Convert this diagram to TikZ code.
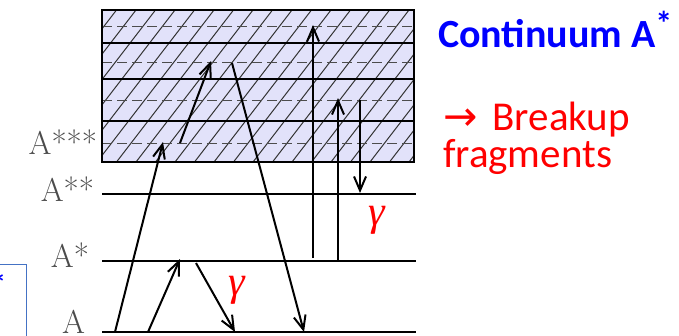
\documentclass[tikz,border=0pt]{standalone}
\usepackage{fontspec}
\newfontfamily\calibri{Carlito}
\newfontfamily\dejavu{DejaVu Sans}
\newfontfamily\gamfont{Liberation Serif}
\usetikzlibrary{arrows.meta}
\definecolor{contfill}{RGB}{226,226,250}
\definecolor{boxblue}{RGB}{68,114,196}

\begin{document}
\begin{tikzpicture}[x=1pt,y=-1pt,line width=2pt,
  level/.style={line width=2pt},
  trans/.style={-{Straight Barb[length=14pt,width=12pt,line width=2pt]},line width=2pt},
  sublevel/.style={dashed,dash pattern=on 10pt off 5pt,black!70,line width=1pt},
  hatch/.style={black!80,line width=1pt},
  lab/.style={font=\fontsize{33}{36}\selectfont,text=black!70,inner sep=0pt},
  gam/.style={text=red,font=\gamfont\itshape\fontsize{42}{44}\selectfont,inner sep=0pt}]

\useasboundingbox (0,0) rectangle (679,335);

% continuum
\fill[contfill] (102,10) rectangle (414,162);
\begin{scope}
\clip (102,10) rectangle (414,162);
\foreach \x in {-20,-0.5,...,420}
  \draw[hatch] (\x,162) -- ++(117,-152);
\end{scope}
\foreach \y in {26,62,100,143}
  \draw[sublevel] (102,\y) -- (414,\y);
\foreach \y in {43,79,121}
  \draw[level] (102,\y) -- (414,\y);
\draw[level] (102,10) rectangle (414,162);

% bound levels
\draw[level] (102,194) -- (416,194); %A**
\draw[level] (102,261) -- (416,261); %A*
\draw[level] (102,332) -- (416,332); %A

\node[lab,anchor=base east] (l3) at (98,154) {A***};
\node[lab,anchor=base east] (l2) at (95,201) {A**};
\node[lab,anchor=base east] (l1) at (90,267) {A*};
\node[lab,anchor=base east] (l0) at (86,333) {A};

% transitions
\coordinate (p1) at (115,332); \coordinate (q1) at (163,142);
\coordinate (p2) at (180,143); \coordinate (q2) at (211,61);
\coordinate (p3) at (232,63);  \coordinate (q3) at (304,332);
\coordinate (p4) at (148,332); \coordinate (q4) at (180,259);
\coordinate (p5) at (196,263); \coordinate (q5) at (235,332);
\coordinate (p6) at (313,258); \coordinate (q6) at (313,25);
\coordinate (p7) at (338,260); \coordinate (q7) at (338,98);
\coordinate (p8) at (360,100); \coordinate (q8) at (360,193);

\draw[trans] (p1) -- (q1); %1
\draw[trans] (p2) -- (q2); %2
\draw[trans] (p3) -- (q3); %3
\draw[trans] (p4) -- (q4); %4
\draw[trans] (p5) -- (q5); %5
\draw[trans] (p6) -- (q6); %6
\draw[trans] (p7) -- (q7); %7
\draw[trans] (p8) -- (q8); %8

\node[gam] (g1) at (377,220) {γ};
\node[gam] (g2) at (237,290) {γ};

% right texts
\node[anchor=base west,inner sep=0pt,text={rgb,255:red,0;green,0;blue,255},
  font=\calibri\bfseries\fontsize{40}{44}\selectfont] (cont) at (437,47)
  {Continuum A\raisebox{12pt}{\fontsize{34}{34}\selectfont*}};
\node[anchor=base west,inner sep=0pt,text=red,
  font=\calibri\fontsize{41}{45}\selectfont] (brk) at (442,130) {{\dejavu →}\hspace{6pt} Breakup};
\node[anchor=base west,inner sep=0pt,text=red,
  font=\calibri\fontsize{41}{45}\selectfont] (frag) at (442,167) {fragments};

% cut box at left
\draw[boxblue,line width=1pt] (-20,264) -- (26,264) -- (26,340);
\node[anchor=east,inner sep=0pt,text={rgb,255:red,0;green,0;blue,255},
  font=\calibri\bfseries\fontsize{30}{30}\selectfont] (cut) at (7,284) {*};

\end{tikzpicture}
\end{document}
